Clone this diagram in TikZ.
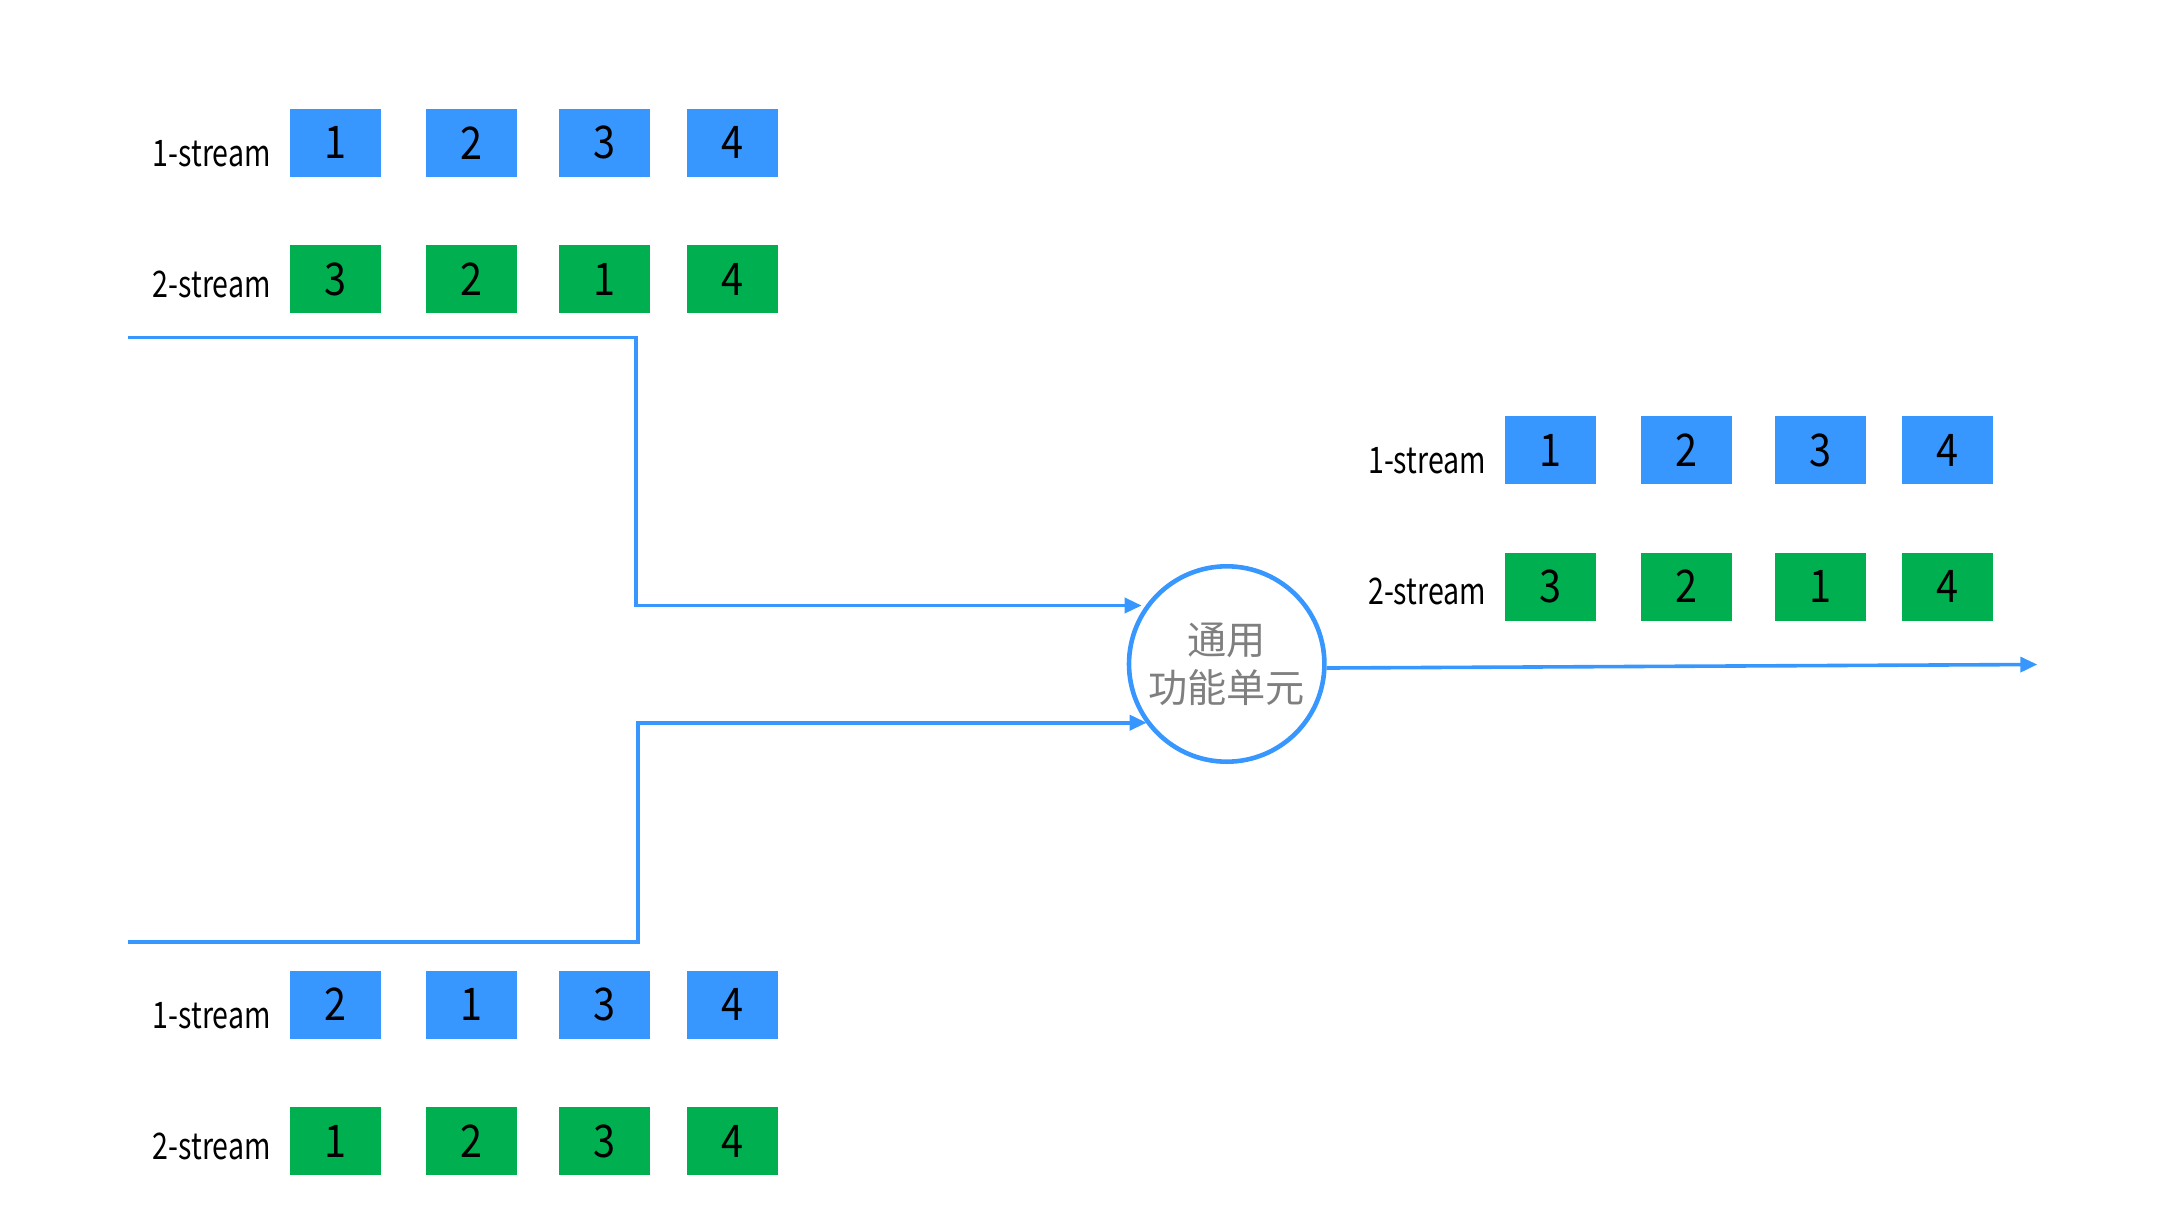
\documentclass[tikz,border=0pt]{standalone}
\usepackage{fontspec}
\setmainfont{Noto Sans CJK SC}
\newfontfamily\latinf{Noto Sans CJK SC}[FakeStretch=0.78]
\newfontfamily\digitf{Noto Sans CJK SC}[FakeStretch=0.88]
\usetikzlibrary{arrows.meta}
\definecolor{sblue}{HTML}{3797FF}
\definecolor{sgreen}{HTML}{00B050}
\definecolor{ugray}{HTML}{7F7F7F}
\newcommand\cellrow[4]{%
  \foreach \d/\x [count=\i] in {#4} \node[#2] (#1\i) at (\x,#3) {\d};}
\begin{document}
\begin{tikzpicture}[x=0.5pt,y=-0.5pt,
  cell/.style={minimum width=45.5pt,minimum height=34pt,inner sep=0pt,font=\digitf\fontsize{22.5}{22.5}\selectfont},
  bcell/.style={cell,fill=sblue},
  gcell/.style={cell,fill=sgreen},
  lab/.style={anchor=base east,inner sep=0pt,font=\latinf\fontsize{18.3}{18.3}\selectfont},
  flow/.style={draw=sblue,line width=1.8pt,-{Triangle[length=8.5pt,width=7.5pt]}},
  unit/.style={circle,draw=sblue,line width=2.3pt,minimum size=97.7pt,inner sep=0pt,align=center,text=ugray,font=\fontsize{19.6}{24}\selectfont}]
\useasboundingbox (0,0) rectangle (2177,1227);
% top-left group
\node[lab] (la1) at (271,166) {1-stream};
\node[lab] (la2) at (271,297) {2-stream};
\cellrow{a}{bcell}{142.7}{1/335,2/471,3/604.5,4/732}
\cellrow{b}{gcell}{279.2}{3/335,2/471,1/604.5,4/732}
% bottom-left group
\node[lab] (lc1) at (271,1028) {1-stream};
\node[lab] (lc2) at (271,1159) {2-stream};
\cellrow{c}{bcell}{1004.5}{2/335,1/471,3/604.5,4/732}
\cellrow{d}{gcell}{1141.2}{1/335,2/471,3/604.5,4/732}
% right group
\begin{scope}[shift={(1215.5,307.3)}]
\node[lab] (le1) at (271,166) {1-stream};
\node[lab] (le2) at (271,297) {2-stream};
\cellrow{e}{bcell}{142.7}{1/335,2/471,3/604.5,4/732}
\cellrow{f}{gcell}{279.2}{3/335,2/471,1/604.5,4/732}
\end{scope}
% unit
\node[unit] (u) at (1226.7,664) {通用\\功能单元};
% connectors
\coordinate (s1) at (128,337.5);
\coordinate (k1) at (635.7,605.5);
\coordinate (t1) at (1141.7,605.5);
\draw[flow] (s1) -| (k1) -- (t1);
\coordinate (s2) at (128,942);
\coordinate (k2) at (638,722.7);
\coordinate (t2) at (1146.7,722.7);
\draw[flow] (s2) -| (k2) -- (t2);
\coordinate (o) at (2037.3,664.5);
\draw[flow] ([yshift=-2pt]u.east) -- (o);
\end{tikzpicture}
\end{document}
